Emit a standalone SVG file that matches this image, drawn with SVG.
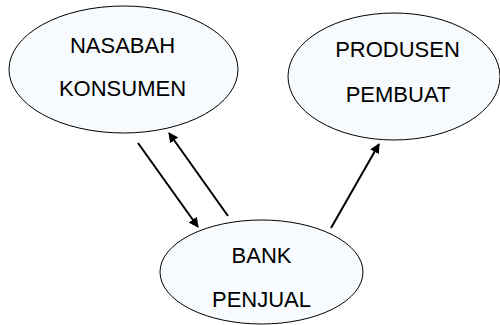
<svg xmlns="http://www.w3.org/2000/svg" width="500" height="325" viewBox="0 0 500 325">
<style>
.node{fill:#f7fbfe;stroke:#000;stroke-width:1}
.lbl{font-family:"Liberation Sans",Arial,sans-serif;font-size:22px;fill:#000;text-anchor:middle}
.conn{stroke:#000;stroke-width:2;fill:none;marker-end:url(#ah)}
</style>
<defs>
<marker id="ah" viewBox="0 0 10 10" refX="9" refY="5" markerWidth="5" markerHeight="5" orient="auto" markerUnits="strokeWidth">
<path d="M0,0 L10,5 L0,10 Z" fill="#000"/>
</marker>
</defs>
<rect width="500" height="325" fill="#fff"/>
<g id="connectors">
<line class="conn" x1="138" y1="143" x2="198" y2="227"/>
<line class="conn" x1="228" y1="216" x2="169" y2="133"/>
<line class="conn" x1="331" y1="228" x2="379" y2="144"/>
</g>
<g id="nasabah">
<ellipse class="node" cx="123.5" cy="69.5" rx="114.5" ry="63.5"/>
<text class="lbl" x="122.5" y="53">NASABAH</text>
<text class="lbl" x="122.5" y="96">KONSUMEN</text>
</g>
<g id="produsen">
<ellipse class="node" cx="394" cy="76.5" rx="106" ry="63.5"/>
<text class="lbl" x="397.5" y="57">PRODUSEN</text>
<text class="lbl" x="398" y="101.5">PEMBUAT</text>
</g>
<g id="bank">
<ellipse class="node" cx="261.5" cy="272" rx="101.5" ry="52"/>
<text class="lbl" x="261.5" y="262.5">BANK</text>
<text class="lbl" x="261.5" y="306.5">PENJUAL</text>
</g>
</svg>
